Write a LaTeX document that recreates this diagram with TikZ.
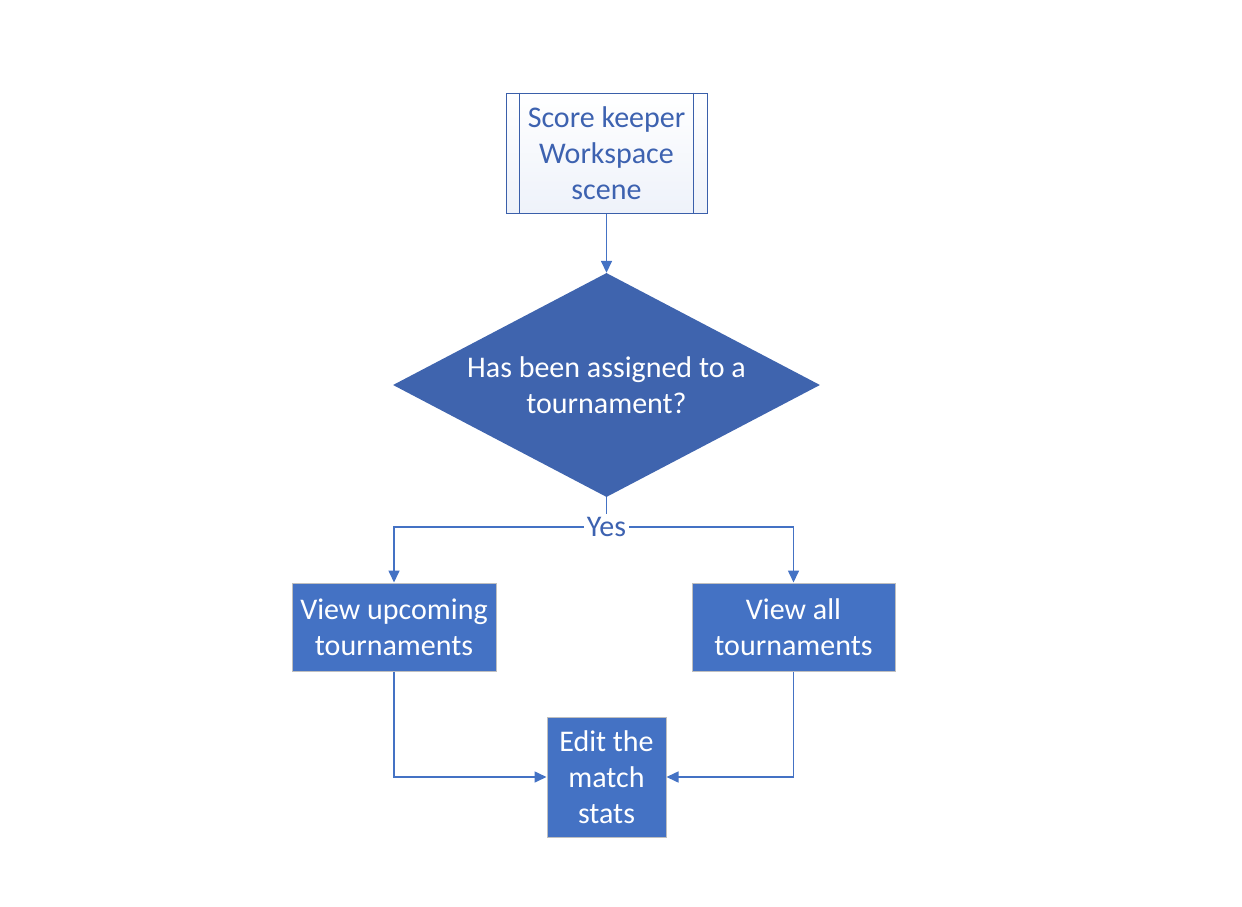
\documentclass[tikz,border=0pt]{standalone}
\usepackage{fontspec}
\setmainfont{Carlito}
\usetikzlibrary{shapes.geometric,arrows.meta}
\definecolor{lineblue}{HTML}{4472C4}
\definecolor{diablue}{HTML}{3F64AE}
\definecolor{boxblue}{HTML}{4472C4}
\definecolor{txtblue}{HTML}{3D62B0}
\definecolor{startedge}{HTML}{3A5FAA}
\definecolor{lightfill}{HTML}{EEF2FA}
\tikzset{
  txt/.style={font=\fontsize{30}{36}\selectfont, align=center},
  startbox/.style={txt, draw=startedge, line width=1pt, top color=white, bottom color=lightfill, text=txtblue, minimum width=201pt, minimum height=120pt, inner sep=0pt},
  decision/.style={txt, diamond, fill=diablue, text=white, minimum width=427pt, minimum height=224pt, inner sep=0pt, aspect=1.906},
  procbox/.style={txt, rectangle, fill=boxblue, draw=black!25, line width=1pt, text=white, inner sep=0pt},
  conn/.style={draw=lineblue, line width=1.6pt},
  arr/.style={conn, -{Triangle[length=12pt,width=11pt]}},
}
\begin{document}
\begin{tikzpicture}[x=1pt,y=-1pt]
\useasboundingbox (0,0) rectangle (1242,907);
\node[startbox] (start) at (606.5,153) {Score keeper\\Workspace\\scene};
\draw[startedge, line width=1pt] (start.north west) ++(14,0) -- ++(0,120);
\draw[startedge, line width=1pt] (start.north east) ++(-14,0) -- ++(0,120);
\node[decision] (dec) at (606.5,385) {Has been assigned to a\\tournament?};
\node[procbox, minimum width=204pt, minimum height=88pt] (left) at (394,627) {View upcoming\\tournaments};
\node[procbox, minimum width=203pt, minimum height=88pt] (right) at (793.5,627) {View all\\tournaments};
\node[procbox, minimum width=119pt, minimum height=120pt] (edit) at (606.5,777) {Edit the\\match\\stats};
\coordinate (split) at (606.5,527);
\draw[arr] (start.south) -- (dec.north);
\draw[conn] (dec.south) -- (split);
\draw[arr] (split) -| (left.north);
\draw[arr] (split) -| (right.north);
\node[txt, fill=white, text=txtblue, inner sep=3pt] (yes) at (split) {Yes};
\draw[arr] (left.south) |- (edit.west);
\draw[arr] (right.south) |- (edit.east);
\end{tikzpicture}
\end{document}
